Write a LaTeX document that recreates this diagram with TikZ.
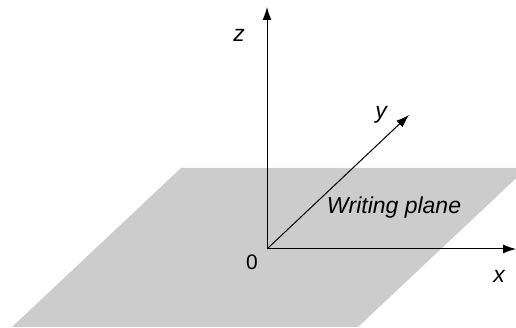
\documentclass[tikz,border=0pt]{standalone}
\usepackage{fontspec}
\setmainfont{Liberation Sans}
\usetikzlibrary{arrows.meta, positioning}

\begin{document}
\begin{tikzpicture}[x=1pt, y=1pt, >={Latex[length=13pt,width=9pt]}, line width=1pt,
    lbl/.style={font=\fontsize{23}{27}\selectfont\itshape, inner sep=0pt}]
    \useasboundingbox (-267,-79) rectangle (249,249);
    % writing plane
    \fill[black!20] (-255,-78) -- (91,-78) -- (260,81) -- (-86,81) -- cycle;
    \coordinate (O) at (0,0);
    \coordinate (xtip) at (249,0);
    \coordinate (ytip) at (142,134);
    \coordinate (ztip) at (0,242);
    \draw[->] (O) -- (xtip);
    \draw[->] (O) -- (ytip);
    \draw[->] (O) -- (ztip);
    \node[lbl] (xl) at (232,-27) {x};
    \node[lbl] (yl) at (114,134) {y};
    \node[lbl] (zl) at (-28,214) {z};
    \node[lbl, font=\fontsize{21}{25}\selectfont] (zero) at (-15,-13) {0};
    \node[lbl] (plane) at (127,41) {Writing plane};
\end{tikzpicture}
\end{document}
